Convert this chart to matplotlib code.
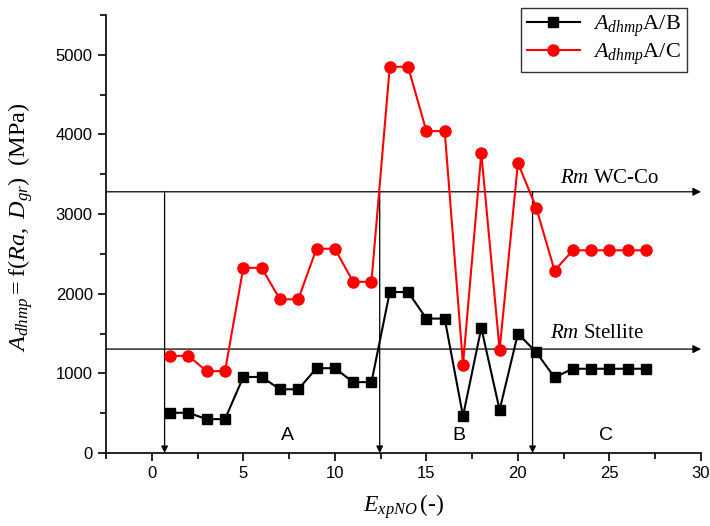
import matplotlib
matplotlib.use("Agg")
import matplotlib.pyplot as plt
from matplotlib.ticker import MultipleLocator

plt.rcParams['font.family'] = ['Liberation Sans', 'DejaVu Sans']
plt.rcParams['mathtext.fontset'] = 'custom'
plt.rcParams['mathtext.rm'] = 'Liberation Serif'
plt.rcParams['mathtext.it'] = 'Liberation Serif:italic'

x = list(range(1, 28))
a_b = [505, 505, 425, 425, 955, 955, 800, 800, 1065, 1065, 890, 890,
       2021, 2021, 1688, 1688, 464, 1570, 540, 1500, 1265, 950,
       1058, 1058, 1058, 1058, 1058]
a_c = [1220, 1220, 1028, 1028, 2325, 2325, 1930, 1930, 2565, 2565, 2150, 2150,
       4850, 4850, 4042, 4042, 1110, 3767, 1295, 3640, 3080, 2290,
       2545, 2545, 2545, 2545, 2545]
rm_wcco = 3280
rm_stellite = 1305
boundaries = [0.7, 12.45, 20.8]

fig = plt.figure(figsize=(7.1, 5.26), dpi=100)
ax = fig.add_axes([106 / 710, 73 / 526, 595 / 710, 438 / 526])

ax.plot(x, a_b, color='black', marker='s', markersize=6.5, lw=1.5,
        label=r'$A_{dhmp}\mathrm{A/B}$', zorder=3)
ax.plot(x, a_c, color='red', marker='o', markersize=8, lw=1.5,
        label=r'$A_{dhmp}\mathrm{A/C}$', zorder=3)

# horizontal reference arrows
for yv in (rm_wcco, rm_stellite):
    ax.annotate('', xy=(30, yv), xytext=(-2.5, yv),
                arrowprops=dict(arrowstyle='-|>', color='black', lw=0.9,
                                mutation_scale=12, shrinkA=0, shrinkB=0),
                annotation_clip=False, zorder=2)
# vertical arrows
for xv in boundaries:
    ax.annotate('', xy=(xv, 0), xytext=(xv, rm_wcco),
                arrowprops=dict(arrowstyle='-|>', color='black', lw=0.9,
                                mutation_scale=10, shrinkA=0, shrinkB=0),
                annotation_clip=False, zorder=2)

ax.text(25.0, 3446, r'$Rm$ WC-Co', fontsize=15, ha='center', va='center',
        family='Liberation Serif')
ax.text(24.3, 1496, r'$Rm$ Stellite', fontsize=15, ha='center', va='center',
        family='Liberation Serif')
ax.text(7.43, 221, 'A', fontsize=14, ha='center', va='center')
ax.text(16.8, 221, 'B', fontsize=14, ha='center', va='center')
ax.text(24.8, 221, 'C', fontsize=14, ha='center', va='center')

ax.set_xlim(-2.5, 30)
ax.set_ylim(0, 5500)
ax.xaxis.set_major_locator(MultipleLocator(5))
ax.xaxis.set_minor_locator(MultipleLocator(2.5))
ax.yaxis.set_major_locator(MultipleLocator(1000))
ax.yaxis.set_minor_locator(MultipleLocator(500))
ax.tick_params(which='major', direction='out', length=6, width=1.2, labelsize=12)
ax.tick_params(which='minor', direction='out', length=4, width=1.2)
ax.spines['top'].set_visible(False)
ax.spines['right'].set_visible(False)
ax.spines['left'].set_linewidth(1.2)
ax.spines['bottom'].set_linewidth(1.2)

ax.set_xlabel(r'$E_{xpNO}\,\mathrm{(\text{-})}$', fontsize=17, labelpad=8)
ax.set_ylabel(r'$A_{dhmp}\mathrm{=f(}Ra\mathrm{,\ }D_{gr}\mathrm{)\ \ (MPa)}$',
              fontsize=17.5, labelpad=6)
ax.yaxis.set_label_coords(-0.12, 0.515)

leg = ax.legend(loc='upper right', bbox_to_anchor=(0.976, 1.016), fontsize=16,
                frameon=True, fancybox=False, edgecolor='black',
                handlelength=2.4, borderpad=0.25, labelspacing=0.1,
                handletextpad=0.6, borderaxespad=0)
leg.get_frame().set_linewidth(1.0)

fig.savefig('out.png', dpi=100)
